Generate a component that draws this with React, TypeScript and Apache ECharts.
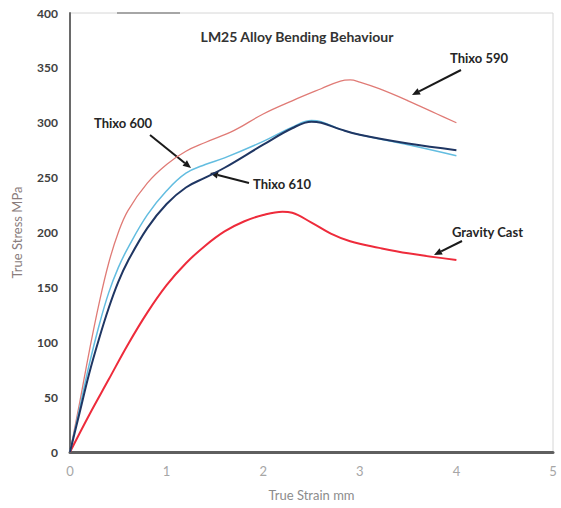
import React, { useEffect, useRef } from "react";
import * as echarts from "echarts";

const titleText = "LM25 Alloy Bending Behaviour";
const xAxisName = "True Strain mm";
const yAxisName = "True Stress MPa";

const thixo590: [number, number][] = [
  [0, 0], [0.1, 45], [0.2, 92], [0.3, 135], [0.4, 172], [0.5, 200], [0.6, 220],
  [0.8, 245], [1.0, 262], [1.2, 274], [1.4, 282], [1.7, 293], [2.0, 308],
  [2.3, 320], [2.6, 331], [2.8, 338], [2.9, 339], [3.0, 337], [3.2, 331],
  [3.5, 320], [3.8, 308], [4.0, 300],
];
const thixo600: [number, number][] = [
  [0, 0], [0.1, 40], [0.2, 80], [0.3, 115], [0.4, 145], [0.5, 168], [0.6, 186],
  [0.8, 216], [1.0, 238], [1.2, 254], [1.4, 262], [1.6, 268], [2.0, 283],
  [2.3, 296], [2.5, 302], [2.6, 301], [2.8, 294], [3.0, 289], [3.5, 280],
  [4.0, 270],
];
const thixo610: [number, number][] = [
  [0, 0], [0.1, 36], [0.2, 72], [0.3, 103], [0.4, 131], [0.5, 155], [0.6, 174],
  [0.8, 204], [1.0, 226], [1.2, 241], [1.4, 250], [1.6, 259], [2.0, 280],
  [2.3, 295], [2.5, 301], [2.6, 300], [2.8, 294], [3.0, 289], [3.5, 281],
  [4.0, 275],
];
const gravityCast: [number, number][] = [
  [0, 0], [0.2, 34], [0.4, 66], [0.6, 98], [0.8, 127], [1.0, 152], [1.2, 172],
  [1.4, 188], [1.6, 201], [1.8, 210], [2.0, 216], [2.2, 219], [2.3, 218],
  [2.5, 209], [2.7, 199], [2.9, 192], [3.2, 186], [3.5, 181], [4.0, 175],
];

const seriesNames = ["Gravity Cast", "Thixo 590", "Thixo 600", "Thixo 610"];

function arrow(x1: number, y1: number, x2: number, y2: number) {
  const ang = Math.atan2(y2 - y1, x2 - x1);
  const len = 8;
  const w = 3.5;
  const bx = x2 - len * Math.cos(ang);
  const by = y2 - len * Math.sin(ang);
  const px = -Math.sin(ang) * w;
  const py = Math.cos(ang) * w;
  return [
    {
      type: "line",
      shape: { x1, y1, x2: bx, y2: by },
      style: { stroke: "#1a1a1a", lineWidth: 2 },
      silent: true,
    },
    {
      type: "polygon",
      shape: { points: [[x2, y2], [bx + px, by + py], [bx - px, by - py]] },
      style: { fill: "#1a1a1a" },
      silent: true,
    },
  ];
}

function label(text: string, x: number, y: number) {
  return {
    type: "text",
    x,
    y,
    style: {
      text,
      fill: "#262626",
      font: "bold 13px Lato, 'Open Sans', sans-serif",
      textVerticalAlign: "middle",
    },
    silent: true,
  };
}

export default function App() {
  const ref = useRef<HTMLDivElement>(null);
  useEffect(() => {
    if (!ref.current) return;
    const chart = echarts.init(ref.current, undefined, { renderer: "svg" });
    const mkLine = (name: string, data: [number, number][], color: string, width: number) => ({
      name,
      type: "line",
      data,
      smooth: 0.4,
      showSymbol: false,
      lineStyle: { color, width },
      itemStyle: { color },
    });
    chart.setOption({
      animation: false,
      backgroundColor: "#ffffff",
      title: {
        text: titleText,
        left: 292,
        top: 24,
        textAlign: "center",
        textStyle: {
          fontFamily: "Lato, 'Open Sans', sans-serif",
          fontWeight: "bold",
          fontSize: 14,
          color: "#333333",
        },
      },
      grid: { left: 70, right: 8, top: 13, bottom: 56, show: true, borderColor: "#d6d6d6", borderWidth: 1 },
      xAxis: {
        type: "value",
        min: 0,
        max: 5,
        interval: 1,
        name: xAxisName,
        nameLocation: "middle",
        nameGap: 36,
        nameTextStyle: { color: "#8c8c8c", fontSize: 13, fontFamily: "Lato, 'Open Sans', sans-serif" },
        axisLine: { show: true, lineStyle: { color: "#5f5f5f", width: 3 } },
        axisTick: { show: false },
        splitLine: { show: false },
        axisLabel: { color: "#a6a6a6", fontSize: 13, margin: 12, fontFamily: "Lato, 'Open Sans', sans-serif" },
      },
      yAxis: {
        type: "value",
        min: 0,
        max: 400,
        interval: 50,
        name: yAxisName,
        nameLocation: "middle",
        nameGap: 47,
        nameRotate: 90,
        nameTextStyle: { color: "#8a7d7d", fontSize: 13, fontFamily: "Lato, 'Open Sans', sans-serif", padding: [0, 0, 0, 0] },
        axisLine: { show: true, lineStyle: { color: "#6a6a6a", width: 2 } },
        axisTick: { show: false },
        splitLine: { show: false },
        axisLabel: { color: "#404040", fontSize: 12, fontWeight: "bold", margin: 12, fontFamily: "Lato, 'Open Sans', sans-serif" },
      },
      series: [
        mkLine(seriesNames[0], gravityCast, "#ee2b3b", 2),
        mkLine(seriesNames[1], thixo590, "#e07b76", 1.3),
        mkLine(seriesNames[2], thixo600, "#63bde0", 1.5),
        mkLine(seriesNames[3], thixo610, "#1f3663", 2),
      ],
      graphic: [
        {
          type: "line",
          shape: { x1: 117, y1: 13, x2: 180, y2: 13 },
          style: { stroke: "#8f8f8f", lineWidth: 1.5 },
          silent: true,
        },
        label("Thixo 600", 94, 123),
        ...arrow(150, 135, 191, 168),
        label("Thixo 610", 253, 184),
        ...arrow(249, 183, 210, 173),
        label("Thixo 590", 450, 58),
        ...arrow(461, 70, 412, 95),
        label("Gravity Cast", 452, 232),
        ...arrow(462, 241, 434, 255),
      ],
    });
    return () => chart.dispose();
  }, []);
  return (
    <div
      ref={ref}
      style={{ position: "fixed", left: 0, top: 0, width: 561, height: 508, background: "#fff" }}
    />
  );
}
